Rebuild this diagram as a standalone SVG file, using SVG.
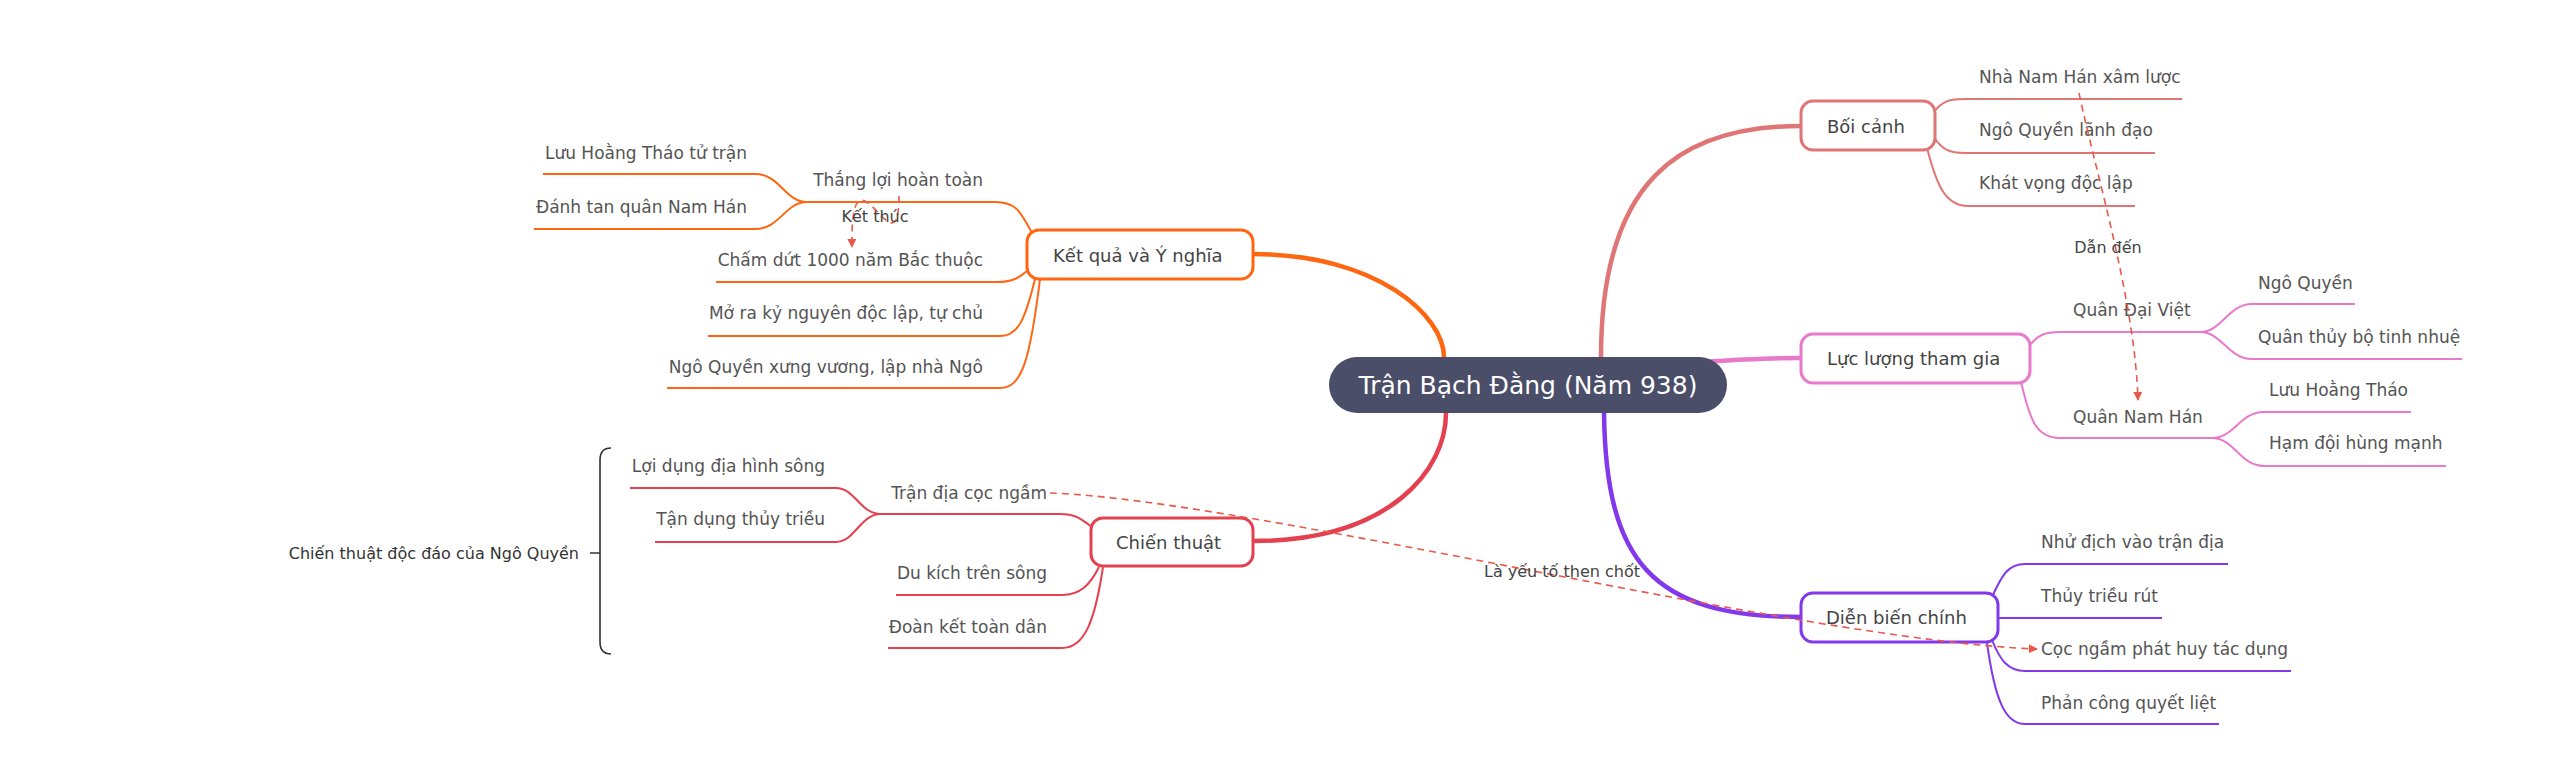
<svg xmlns="http://www.w3.org/2000/svg" width="2557" height="769" viewBox="0 0 2557 769">
<style>
text{font-family:"DejaVu Sans","Liberation Sans",sans-serif;}
.c{fill:#545454;font-size:17px;dominant-baseline:central;}
.e{text-anchor:end;}
.b{fill:#fff;stroke-width:3;}
.bt{fill:#444;font-size:18px;dominant-baseline:central;}
.lb{fill:#444;font-size:16px;dominant-baseline:central;text-anchor:middle;}
.main{fill:none;stroke-width:4.5;stroke-linecap:round;}
.sub{fill:none;stroke-width:2;}
.dash{fill:none;stroke:#E8594A;stroke-width:1.6;stroke-dasharray:7 5;}
.s1{stroke:#E07575;}.s2{stroke:#E879CB;}.s3{stroke:#8338EC;}.s4{stroke:#E5404F;}.s5{stroke:#FF6611;}
</style>
<defs>
<marker id="arr" viewBox="0 0 10 10" refX="9" refY="5" markerWidth="9" markerHeight="9" markerUnits="userSpaceOnUse" orient="auto">
<path d="M0,0 L10,5 L0,10 z" fill="#E8594A"/>
</marker>
</defs>
<rect width="2557" height="769" fill="#fff"/>
<g id="connectors">
<path class="main s1" d="M1601,380 L1601,357 C1601,180 1680,126 1801,126"/>
<path class="main s2" d="M1700,362 C1750,359 1770,358 1801,358"/>
<path class="main s3" d="M1604,400 L1604,413 C1606,560 1650,617 1801,617"/>
<path class="main s5" d="M1253,254 C1377,254 1444,316 1444,357 L1444,380"/>
<path class="main s4" d="M1253,541 C1390,541 1446,470 1446,413 L1446,395"/>
<path class="sub s1" d="M1934,112 C1942,101 1950,99 1965,99 L2182,99"/>
<path class="sub s1" d="M1934,137 C1942,150 1950,153 1965,153 L2155,153"/>
<path class="sub s1" d="M1927,148 C1936,182 1944,206 1968,206 L2135,206"/>
<path class="sub s2" d="M2030,345 C2038,335 2045,332 2060,332 L2200,332"/>
<path class="sub s2" d="M2200,332 C2222,332 2228,304 2252,304 L2355,304"/>
<path class="sub s2" d="M2200,332 C2222,332 2228,359 2252,359 L2462,359"/>
<path class="sub s2" d="M2021,382 C2030,420 2036,438 2060,438 L2212,438"/>
<path class="sub s2" d="M2212,438 C2234,438 2240,412 2264,412 L2411,412"/>
<path class="sub s2" d="M2212,438 C2234,438 2240,466 2264,466 L2446,466"/>
<path class="sub s3" d="M1992,597 C2002,575 2008,564 2025,564 L2228,564"/>
<path class="sub s3" d="M1998,618 L2162,618"/>
<path class="sub s3" d="M1992,640 C2000,660 2008,671 2025,671 L2291,671"/>
<path class="sub s3" d="M1987,643 C1995,700 2005,724 2025,724 L2219,724"/>
<path class="sub s5" d="M1032,233 C1020,210 1015,202 995,202 L807,202"/>
<path class="sub s5" d="M807,202 C785,202 780,174 755,174 L543,174"/>
<path class="sub s5" d="M807,202 C785,202 780,229 755,229 L534,229"/>
<path class="sub s5" d="M1030,268 C1020,278 1012,282 998,282 L716,282"/>
<path class="sub s5" d="M1035,279 C1025,320 1018,336 1000,336 L708,336"/>
<path class="sub s5" d="M1040,279 C1030,360 1022,388 1000,388 L667,388"/>
<path class="sub s4" d="M1092,527 C1080,518 1075,514 1060,514 L881,514"/>
<path class="sub s4" d="M881,514 C860,514 855,488 836,488 L630,488"/>
<path class="sub s4" d="M881,514 C860,514 855,542 836,542 L655,542"/>
<path class="sub s4" d="M1099,567 C1090,585 1080,595 1062,595 L896,595"/>
<path class="sub s4" d="M1103,567 C1095,620 1085,648 1062,648 L888,648"/>
</g>
<g id="central">
<rect x="1329" y="357" width="398" height="56" rx="28" fill="#4A4E69"/>
<text x="1528" y="385" fill="#fff" font-size="25" text-anchor="middle" dominant-baseline="central">Trận Bạch Đằng (Năm 938)</text>
</g>
<g id="boi-canh">
<rect class="b s1" x="1801" y="101" width="134" height="49" rx="12"/>
<text class="bt" x="1827" y="126">Bối cảnh</text>
</g>
<g id="luc-luong">
<rect class="b s2" x="1801" y="334" width="229" height="49" rx="12"/>
<text class="bt" x="1827" y="358">Lực lượng tham gia</text>
</g>
<g id="dien-bien">
<rect class="b s3" x="1801" y="593" width="197" height="49" rx="12"/>
<text class="bt" x="1826" y="617">Diễn biến chính</text>
</g>
<g id="ket-qua">
<rect class="b s5" x="1027" y="230" width="226" height="49" rx="12"/>
<text class="bt" x="1053" y="255">Kết quả và Ý nghĩa</text>
</g>
<g id="chien-thuat">
<rect class="b s4" x="1091" y="518" width="162" height="48" rx="12"/>
<text class="bt" x="1116" y="542">Chiến thuật</text>
</g>
<g id="boi-canh-children">
<text class="c" x="1979" y="77">Nhà Nam Hán xâm lược</text>
<text class="c" x="1979" y="130">Ngô Quyền lãnh đạo</text>
<text class="c" x="1979" y="183">Khát vọng độc lập</text>
</g>
<g id="luc-luong-children">
<text class="c" x="2073" y="310">Quân Đại Việt</text>
<text class="c" x="2258" y="283">Ngô Quyền</text>
<text class="c" x="2258" y="337">Quân thủy bộ tinh nhuệ</text>
<text class="c" x="2073" y="417">Quân Nam Hán</text>
<text class="c" x="2269" y="390">Lưu Hoằng Tháo</text>
<text class="c" x="2269" y="443">Hạm đội hùng mạnh</text>
</g>
<g id="dien-bien-children">
<text class="c" x="2041" y="542">Nhử địch vào trận địa</text>
<text class="c" x="2041" y="596">Thủy triều rút</text>
<text class="c" x="2041" y="649">Cọc ngầm phát huy tác dụng</text>
<text class="c" x="2041" y="703">Phản công quyết liệt</text>
</g>
<g id="ket-qua-children">
<text class="c e" x="983" y="180">Thắng lợi hoàn toàn</text>
<text class="c e" x="747" y="153">Lưu Hoằng Tháo tử trận</text>
<text class="c e" x="747" y="207">Đánh tan quân Nam Hán</text>
<text class="c e" x="983" y="260">Chấm dứt 1000 năm Bắc thuộc</text>
<text class="c e" x="983" y="313">Mở ra kỷ nguyên độc lập, tự chủ</text>
<text class="c e" x="983" y="367">Ngô Quyền xưng vương, lập nhà Ngô</text>
</g>
<g id="chien-thuat-children">
<text class="c e" x="1047" y="493">Trận địa cọc ngầm</text>
<text class="c e" x="825" y="466">Lợi dụng địa hình sông</text>
<text class="c e" x="825" y="519">Tận dụng thủy triều</text>
<text class="c e" x="1047" y="573">Du kích trên sông</text>
<text class="c e" x="1047" y="627">Đoàn kết toàn dân</text>
</g>
<g id="summary">
<path d="M611,448 Q600,448 600,460 L600,642 Q600,654 611,654 M590,553 L600,553" fill="none" stroke="#333" stroke-width="1.6"/>
<text x="579" y="553" fill="#333" font-size="16" text-anchor="end" dominant-baseline="central">Chiến thuật độc đáo của Ngô Quyền</text>
</g>
<g id="relations">
<path class="dash" d="M2079,93 C2095,170 2135,300 2138,400" marker-end="url(#arr)"/>
<path class="dash" d="M899,196 C899,280 850,130 852,247" marker-end="url(#arr)"/>
<path class="dash" d="M1050,493 C1250,500 1800,640 2037,649" marker-end="url(#arr)"/>
<text class="lb" x="2108" y="247">Dẫn đến</text>
<text class="lb" x="875" y="216">Kết thúc</text>
<text class="lb" x="1562" y="571">Là yếu tố then chốt</text>
</g>
</svg>
